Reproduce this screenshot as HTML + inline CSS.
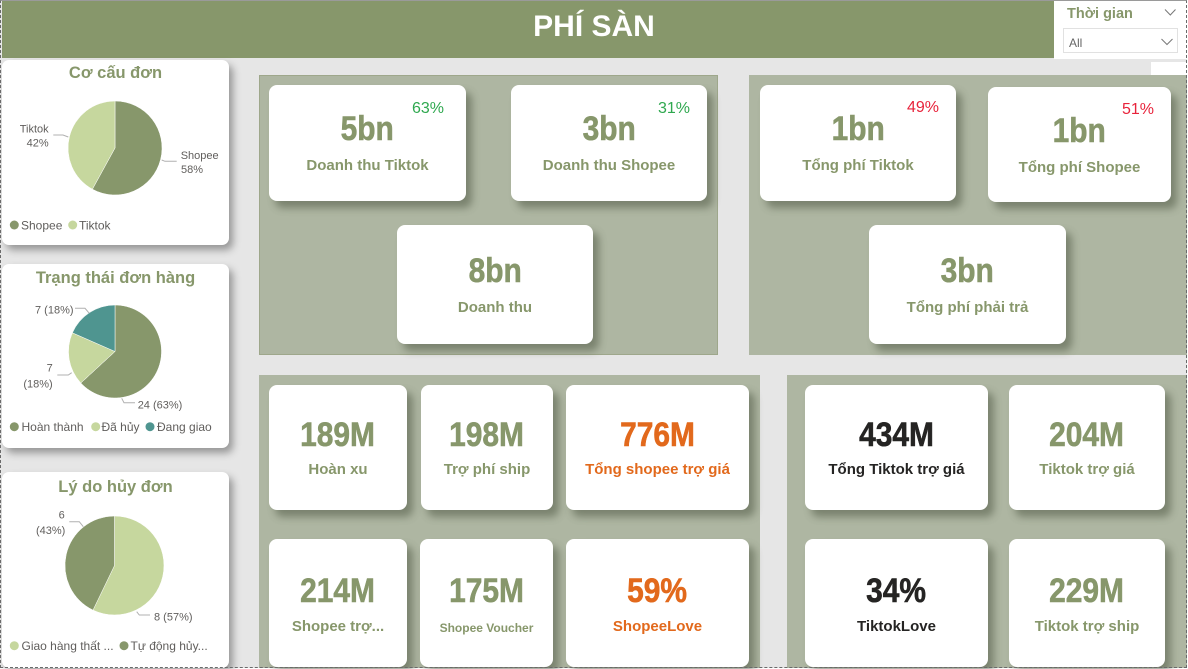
<!DOCTYPE html>
<html><head><meta charset="utf-8">
<style>
*{margin:0;padding:0;box-sizing:border-box}
body{width:1188px;height:669px;position:relative;overflow:hidden;background:#fff;font-family:"Liberation Sans","DejaVu Sans",sans-serif}
.abs{position:absolute}
.bg{left:0;top:0;width:1187px;height:668px;background:#e6e6e6}
.frame{left:0;top:0;width:1187px;height:668px;border:1px dashed #6a6a6a;border-top:1px solid #9a9a9a;z-index:50;pointer-events:none}
.header{left:2px;top:1px;width:1052px;height:57px;background:#87976b}
.title{left:0;top:11.6px;width:1188px;text-align:center;color:#fff;font-weight:bold;font-size:30px;line-height:30px;z-index:5}
.slicer{left:1054px;top:0;width:133px;height:59px;background:#fff}
.lp{background:#fff;border-radius:7px;box-shadow:4px 5px 8px rgba(0,0,0,0.35)}
.panel{background:#aeb6a2;overflow:hidden}
.card{position:absolute;background:#fff;border-radius:8px;box-shadow:6px 7px 8px rgba(60,68,48,0.45)}
.v{position:absolute;left:0;width:100%;text-align:center;font-weight:bold;font-size:34px;line-height:34px;color:#87976b;-webkit-text-stroke:0.6px currentColor}
.v span{display:inline-block;transform:scaleX(0.88);transform-origin:center}
.l{position:absolute;left:0;width:100%;text-align:center;font-weight:bold;font-size:15px;line-height:15px;color:#87976b;white-space:nowrap}
.p{position:absolute;font-size:16px;line-height:16px;white-space:nowrap}
.g{color:#2fa84f}.r{color:#e8233b}
.o{color:#e2691c}.k{color:#252423}
</style></head><body>
<div class="abs bg"></div>
<div class="abs header"></div>
<div class="abs title">PHÍ SÀN</div>
<div class="abs slicer"></div>
<div class="abs" style="left:1151px;top:62px;width:36px;height:13px;background:#fff"></div>
<div class="abs" style="left:1067px;top:6.7px;font-weight:bold;font-size:14.5px;line-height:14.5px;color:#87976b">Thời gian</div>
<div class="abs" style="left:1063px;top:28px;width:115px;height:25px;border:1px solid #e1e1e1;background:#fff"></div>
<div class="abs" style="left:1069px;top:37px;font-size:12px;line-height:12px;color:#666">All</div>
<svg class="abs" style="left:1150px;top:0" width="38" height="60">
<polyline points="15,9.5 20.3,15 25.5,9.5" fill="none" stroke="#777" stroke-width="1"/>
<polyline points="11.5,39 17,44.5 22.5,39" fill="none" stroke="#777" stroke-width="1"/>
</svg>

<!-- left panels -->
<div class="abs lp" style="left:2px;top:60px;width:227px;height:185px"></div>
<div class="abs lp" style="left:2px;top:264px;width:227px;height:184px"></div>
<div class="abs lp" style="left:2px;top:472px;width:227px;height:196px"></div>

<svg class="abs" style="left:0;top:0;z-index:3" width="240" height="669" font-family="Liberation Sans, DejaVu Sans, sans-serif">
<g font-weight="bold" font-size="16.5" fill="#87976b" text-anchor="middle">
<text x="115.5" y="78">Cơ cấu đơn</text>
<text x="115.5" y="283">Trạng thái đơn hàng</text>
<text x="115.5" y="492">Lý do hủy đơn</text>
</g>
<!-- pie 1 -->
<path d="M115,148 L115,101 A47,47 0 1 1 92.4,189.2 Z" fill="#87976b" stroke="#fff" stroke-width="0.5"/>
<path d="M115,148 L92.4,189.2 A47,47 0 0 1 115,101 Z" fill="#c6d79e" stroke="#fff" stroke-width="0.5"/>
<!-- pie 2 -->
<path d="M115,351.5 L115,305 A46.5,46.5 0 1 1 80.8,383 Z" fill="#87976b" stroke="#fff" stroke-width="0.5"/>
<path d="M115,351.5 L80.8,383 A46.5,46.5 0 0 1 72.4,332.8 Z" fill="#c6d79e" stroke="#fff" stroke-width="0.5"/>
<path d="M115,351.5 L72.4,332.8 A46.5,46.5 0 0 1 115,305 Z" fill="#4f9590" stroke="#fff" stroke-width="0.5"/>
<!-- pie 3 -->
<path d="M114.5,565.5 L114.5,516 A49.5,49.5 0 1 1 93,610.1 Z" fill="#c6d79e" stroke="#fff" stroke-width="0.5"/>
<path d="M114.5,565.5 L93,610.1 A49.5,49.5 0 0 1 114.5,516 Z" fill="#87976b" stroke="#fff" stroke-width="0.5"/>
<!-- leader lines -->
<g fill="none" stroke="#b0b0b0" stroke-width="1">
<polyline points="53.3,135 63,135 68.3,137"/>
<polyline points="161.7,160 165,161.3 176.7,161.3"/>
<polyline points="75,308.3 85,308.3 89.3,313.3"/>
<polyline points="57.3,375 68.3,375 71.7,372.7"/>
<polyline points="121.7,398.3 124,402.7 135,402.7"/>
<polyline points="69.3,521.7 79.3,521.7 83.3,526.7"/>
<polyline points="136.7,611.7 139.3,615 150,615"/>
</g>
<g font-size="11" fill="#605e5c">
<text x="48.7" y="132.7" text-anchor="end">Tiktok</text>
<text x="48.7" y="146.7" text-anchor="end">42%</text>
<text x="180.7" y="159">Shopee</text>
<text x="181" y="173">58%</text>
<text x="35" y="313.3">7 (18%)</text>
<text x="52.7" y="371.7" text-anchor="end">7</text>
<text x="52.7" y="387.3" text-anchor="end">(18%)</text>
<text x="137.7" y="408.3">24 (63%)</text>
<text x="64.7" y="518.3" text-anchor="end">6</text>
<text x="65.3" y="534" text-anchor="end">(43%)</text>
<text x="154" y="620.7">8 (57%)</text>
</g>
<!-- legends -->
<g font-size="12" fill="#605e5c">
<circle cx="14.3" cy="225" r="4.5" fill="#87976b"/><text x="21" y="229.5">Shopee</text>
<circle cx="72.7" cy="225" r="4.5" fill="#c6d79e"/><text x="79" y="229.5">Tiktok</text>
<circle cx="14.3" cy="426.7" r="4.5" fill="#87976b"/><text x="21.5" y="431">Hoàn thành</text>
<circle cx="95.7" cy="426.7" r="4.5" fill="#c6d79e"/><text x="101.5" y="431">Đã hủy</text>
<circle cx="150" cy="426.7" r="4.5" fill="#4f9590"/><text x="157" y="431">Đang giao</text>
<circle cx="14.3" cy="645.7" r="4.5" fill="#c6d79e"/><text x="21.5" y="650">Giao hàng thất ...</text>
<circle cx="124" cy="645.7" r="4.5" fill="#87976b"/><text x="130.5" y="650">Tự động hủy...</text>
</g>
</svg>

<!-- Panel A -->
<div class="abs panel" style="left:259px;top:75px;width:459px;height:280px;border:1px solid #9ea78b"></div>
<div class="card" style="left:269px;top:85px;width:197px;height:116px">
  <div class="p g" style="right:22px;top:15.5px">63%</div>
  <div class="v" style="top:27.2px"><span>5bn</span></div>
  <div class="l" style="top:73.3px">Doanh thu Tiktok</div>
</div>
<div class="card" style="left:511px;top:85px;width:196px;height:116px">
  <div class="p g" style="right:17px;top:15.5px">31%</div>
  <div class="v" style="top:27.2px"><span>3bn</span></div>
  <div class="l" style="top:73.3px">Doanh thu Shopee</div>
</div>
<div class="card" style="left:397px;top:225px;width:196px;height:119px">
  <div class="v" style="top:29.2px"><span>8bn</span></div>
  <div class="l" style="top:75.3px">Doanh thu</div>
</div>

<!-- Panel B -->
<div class="abs panel" style="left:749px;top:75px;width:438px;height:280px"></div>
<div class="card" style="left:760px;top:85px;width:196px;height:116px">
  <div class="p r" style="right:17px;top:14.5px">49%</div>
  <div class="v" style="top:27.2px"><span>1bn</span></div>
  <div class="l" style="top:73.3px">Tổng phí Tiktok</div>
</div>
<div class="card" style="left:988px;top:87px;width:183px;height:115px">
  <div class="p r" style="right:17px;top:14.5px">51%</div>
  <div class="v" style="top:27.2px"><span>1bn</span></div>
  <div class="l" style="top:73.3px">Tổng phí Shopee</div>
</div>
<div class="card" style="left:869px;top:225px;width:197px;height:119px">
  <div class="v" style="top:29.2px"><span>3bn</span></div>
  <div class="l" style="top:75.3px">Tổng phí phải trả</div>
</div>

<!-- Panel C -->
<div class="abs panel" style="left:259px;top:375px;width:501px;height:293px"></div>
<div class="card" style="left:269px;top:385px;width:138px;height:125px">
  <div class="v" style="top:33.2px"><span>189M</span></div>
  <div class="l" style="top:77.3px">Hoàn xu</div>
</div>
<div class="card" style="left:421px;top:385px;width:132px;height:125px">
  <div class="v" style="top:33.2px"><span>198M</span></div>
  <div class="l" style="top:77.3px">Trợ phí ship</div>
</div>
<div class="card" style="left:566px;top:385px;width:183px;height:125px">
  <div class="v o" style="top:33.2px"><span>776M</span></div>
  <div class="l o" style="top:77.3px">Tổng shopee trợ giá</div>
</div>
<div class="card" style="left:269px;top:539px;width:138px;height:128px">
  <div class="v" style="top:35.2px"><span>214M</span></div>
  <div class="l" style="top:80.3px">Shopee trợ...</div>
</div>
<div class="card" style="left:420px;top:539px;width:133px;height:128px">
  <div class="v" style="top:35.2px"><span>175M</span></div>
  <div class="l" style="top:82.8px;font-size:12px;line-height:12px">Shopee Voucher</div>
</div>
<div class="card" style="left:566px;top:539px;width:183px;height:128px">
  <div class="v o" style="top:35.2px"><span>59%</span></div>
  <div class="l o" style="top:80.3px">ShopeeLove</div>
</div>

<!-- Panel D -->
<div class="abs panel" style="left:787px;top:375px;width:400px;height:293px"></div>
<div class="card" style="left:805px;top:385px;width:183px;height:125px">
  <div class="v k" style="top:33.2px"><span>434M</span></div>
  <div class="l k" style="top:77.3px">Tổng Tiktok trợ giá</div>
</div>
<div class="card" style="left:1009px;top:385px;width:156px;height:125px">
  <div class="v" style="top:33.2px"><span>204M</span></div>
  <div class="l" style="top:77.3px">Tiktok trợ giá</div>
</div>
<div class="card" style="left:805px;top:539px;width:183px;height:128px">
  <div class="v k" style="top:35.2px"><span>34%</span></div>
  <div class="l k" style="top:80.3px">TiktokLove</div>
</div>
<div class="card" style="left:1009px;top:539px;width:156px;height:128px">
  <div class="v" style="top:35.2px"><span>229M</span></div>
  <div class="l" style="top:80.3px">Tiktok trợ ship</div>
</div>

<div class="abs frame"></div>
</body></html>
